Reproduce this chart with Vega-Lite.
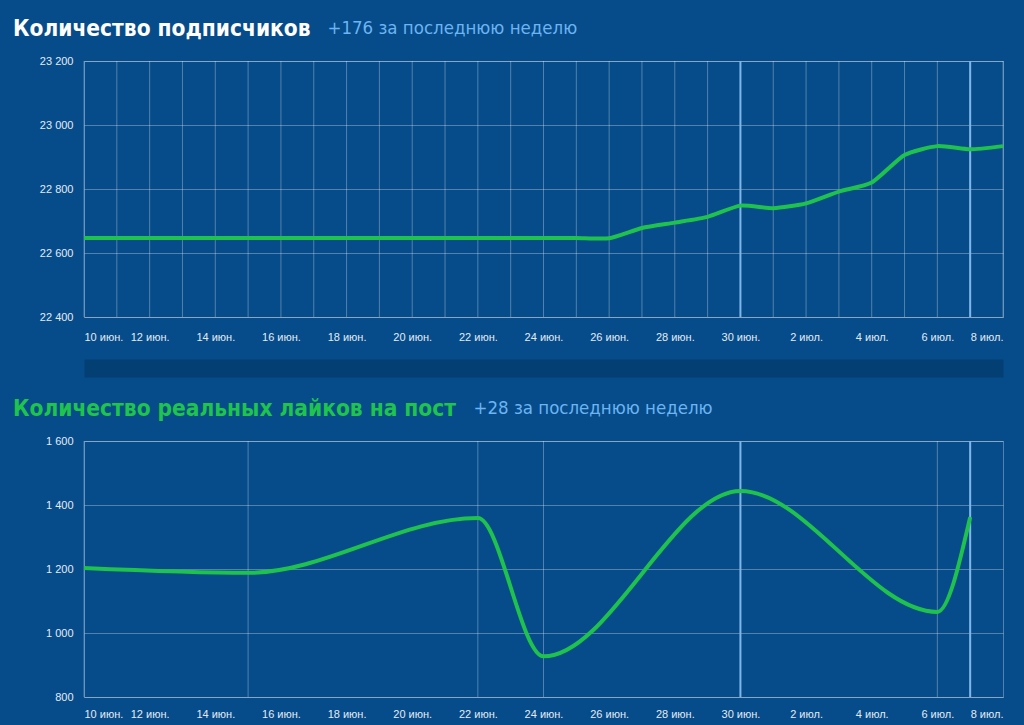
{
  "$schema": "https://vega.github.io/schema/vega-lite/v6.json",
  "background": "#064c8a",
  "padding": {"left": 12, "top": 17, "right": 12, "bottom": 6},
  "spacing": 28,
  "datasets": {
    "subscribers": [
      {"date": "2019-06-10T00:00", "count": 22647},
      {"date": "2019-06-11T00:00", "count": 22647},
      {"date": "2019-06-12T00:00", "count": 22647},
      {"date": "2019-06-13T00:00", "count": 22647},
      {"date": "2019-06-14T00:00", "count": 22647},
      {"date": "2019-06-15T00:00", "count": 22647},
      {"date": "2019-06-16T00:00", "count": 22647},
      {"date": "2019-06-17T00:00", "count": 22647},
      {"date": "2019-06-18T00:00", "count": 22647},
      {"date": "2019-06-19T00:00", "count": 22647},
      {"date": "2019-06-20T00:00", "count": 22647},
      {"date": "2019-06-21T00:00", "count": 22647},
      {"date": "2019-06-22T00:00", "count": 22647},
      {"date": "2019-06-23T00:00", "count": 22647},
      {"date": "2019-06-24T00:00", "count": 22647},
      {"date": "2019-06-25T00:00", "count": 22647},
      {"date": "2019-06-26T00:00", "count": 22646},
      {"date": "2019-06-27T00:00", "count": 22678},
      {"date": "2019-06-28T00:00", "count": 22695},
      {"date": "2019-06-29T00:00", "count": 22713},
      {"date": "2019-06-30T00:00", "count": 22748},
      {"date": "2019-07-01T00:00", "count": 22740},
      {"date": "2019-07-02T00:00", "count": 22755},
      {"date": "2019-07-03T00:00", "count": 22792},
      {"date": "2019-07-04T00:00", "count": 22820},
      {"date": "2019-07-05T00:00", "count": 22906},
      {"date": "2019-07-06T00:00", "count": 22934},
      {"date": "2019-07-07T00:00", "count": 22924},
      {"date": "2019-07-08T00:00", "count": 22934}
    ],
    "likes": [
      {"date": "2019-06-10T00:00", "likes": 1203},
      {"date": "2019-06-15T00:00", "likes": 1188},
      {"date": "2019-06-22T00:00", "likes": 1359},
      {"date": "2019-06-24T00:00", "likes": 927},
      {"date": "2019-06-30T00:00", "likes": 1444},
      {"date": "2019-07-06T00:00", "likes": 1066},
      {"date": "2019-07-07T00:00", "likes": 1362}
    ],
    "weeks": [
      {"date": "2019-06-30T00:00"},
      {"date": "2019-07-07T00:00"}
    ]
  },
  "vconcat": [
    {
      "width": 919,
      "height": 256,
      "title": {
        "text": "Количество подписчиков",
        "color": "#ffffff"
      },
      "layer": [
        {
          "data": {"name": "subscribers"},
          "mark": {"type": "rule", "color": "rgba(255,255,255,0.3)", "strokeWidth": 1},
          "encoding": {
            "x": {
              "field": "date",
              "type": "temporal",
              "scale": {"domain": [{"year": 2019, "month": 6, "date": 10}, {"year": 2019, "month": 7, "date": 8}]},
              "axis": {
                "title": null,
                "grid": false,
                "ticks": false,
                "tickSize": 0,
                "offset": 51,
                "domain": true,
                "domainColor": "#043f74",
                "domainWidth": 18,
                "labelPadding": -37,
                "values": [
                  {"year": 2019, "month": 6, "date": 10}, {"year": 2019, "month": 6, "date": 12},
                  {"year": 2019, "month": 6, "date": 14}, {"year": 2019, "month": 6, "date": 16},
                  {"year": 2019, "month": 6, "date": 18}, {"year": 2019, "month": 6, "date": 20},
                  {"year": 2019, "month": 6, "date": 22}, {"year": 2019, "month": 6, "date": 24},
                  {"year": 2019, "month": 6, "date": 26}, {"year": 2019, "month": 6, "date": 28},
                  {"year": 2019, "month": 6, "date": 30}, {"year": 2019, "month": 7, "date": 2},
                  {"year": 2019, "month": 7, "date": 4}, {"year": 2019, "month": 7, "date": 6},
                  {"year": 2019, "month": 7, "date": 8}
                ],
                "labelExpr": "date(datum.value) + (month(datum.value) == 5 ? ' июн.' : ' июл.')"
              }
            }
          }
        },
        {
          "data": {"name": "weeks"},
          "mark": {"type": "rule", "color": "#7fb6ea", "strokeWidth": 2},
          "encoding": {
            "x": {"field": "date", "type": "temporal"}
          }
        },
        {
          "data": {"name": "subscribers"},
          "mark": {"type": "line", "color": "#1fc24c", "strokeWidth": 4, "interpolate": "cardinal", "tension": 0.4},
          "encoding": {
            "x": {"field": "date", "type": "temporal"},
            "y": {
              "field": "count",
              "type": "quantitative",
              "scale": {"domain": [22400, 23200], "zero": false},
              "axis": {
                "values": [22400, 22600, 22800, 23000, 23200],
                "labelExpr": "replace(format(datum.value, ','), ',', ' ')",
                "title": "+176 за последнюю неделю",
                "titleX": 243
              }
            }
          }
        }
      ]
    },
    {
      "width": 919,
      "height": 256,
      "title": {
        "text": "Количество реальных лайков на пост",
        "color": "#1ec44c"
      },
      "layer": [
        {
          "data": {"name": "likes"},
          "mark": {"type": "rule", "color": "rgba(255,255,255,0.3)", "strokeWidth": 1},
          "encoding": {
            "x": {
              "field": "date",
              "type": "temporal",
              "scale": {"domain": [{"year": 2019, "month": 6, "date": 10}, {"year": 2019, "month": 7, "date": 8}]},
              "axis": {
                "title": null,
                "grid": false,
                "domain": false,
                "ticks": false,
                "tickSize": 0,
                "labelPadding": 11,
                "values": [
                  {"year": 2019, "month": 6, "date": 10}, {"year": 2019, "month": 6, "date": 12},
                  {"year": 2019, "month": 6, "date": 14}, {"year": 2019, "month": 6, "date": 16},
                  {"year": 2019, "month": 6, "date": 18}, {"year": 2019, "month": 6, "date": 20},
                  {"year": 2019, "month": 6, "date": 22}, {"year": 2019, "month": 6, "date": 24},
                  {"year": 2019, "month": 6, "date": 26}, {"year": 2019, "month": 6, "date": 28},
                  {"year": 2019, "month": 6, "date": 30}, {"year": 2019, "month": 7, "date": 2},
                  {"year": 2019, "month": 7, "date": 4}, {"year": 2019, "month": 7, "date": 6},
                  {"year": 2019, "month": 7, "date": 8}
                ],
                "labelExpr": "date(datum.value) + (month(datum.value) == 5 ? ' июн.' : ' июл.')"
              }
            }
          }
        },
        {
          "data": {"name": "weeks"},
          "mark": {"type": "rule", "color": "#7fb6ea", "strokeWidth": 2},
          "encoding": {
            "x": {"field": "date", "type": "temporal"}
          }
        },
        {
          "data": {"name": "likes"},
          "mark": {"type": "line", "color": "#1fc24c", "strokeWidth": 4, "interpolate": "monotone"},
          "encoding": {
            "x": {"field": "date", "type": "temporal"},
            "y": {
              "field": "likes",
              "type": "quantitative",
              "scale": {"domain": [800, 1600], "zero": false},
              "axis": {
                "values": [800, 1000, 1200, 1400, 1600],
                "labelExpr": "replace(format(datum.value, ','), ',', ' ')",
                "title": "+28 за последнюю неделю",
                "titleX": 389
              }
            }
          }
        }
      ]
    }
  ],
  "config": {
    "view": {"stroke": "rgba(255,255,255,0.3)", "strokeWidth": 1},
    "title": {
      "anchor": "start",
      "frame": "group",
      "dx": -71,
      "offset": -22,
      "baseline": "alphabetic",
      "font": "DejaVu Sans Condensed",
      "fontSize": 22.5,
      "fontWeight": "bold"
    },
    "axis": {
      "gridColor": "#ffffff",
      "gridOpacity": 0.3,
      "labelColor": "#e3ebf5",
      "labelFont": "Liberation Sans",
      "labelFontSize": 11
    },
    "axisY": {
      "domain": false,
      "ticks": false,
      "labelPadding": 11,
      "titleY": -28,
      "titleAngle": 0,
      "titleAlign": "left",
      "titleBaseline": "alphabetic",
      "titleFont": "DejaVu Sans Condensed",
      "titleFontSize": 18.5,
      "titleFontWeight": "normal",
      "titleColor": "#6cb4f2"
    }
  }
}
